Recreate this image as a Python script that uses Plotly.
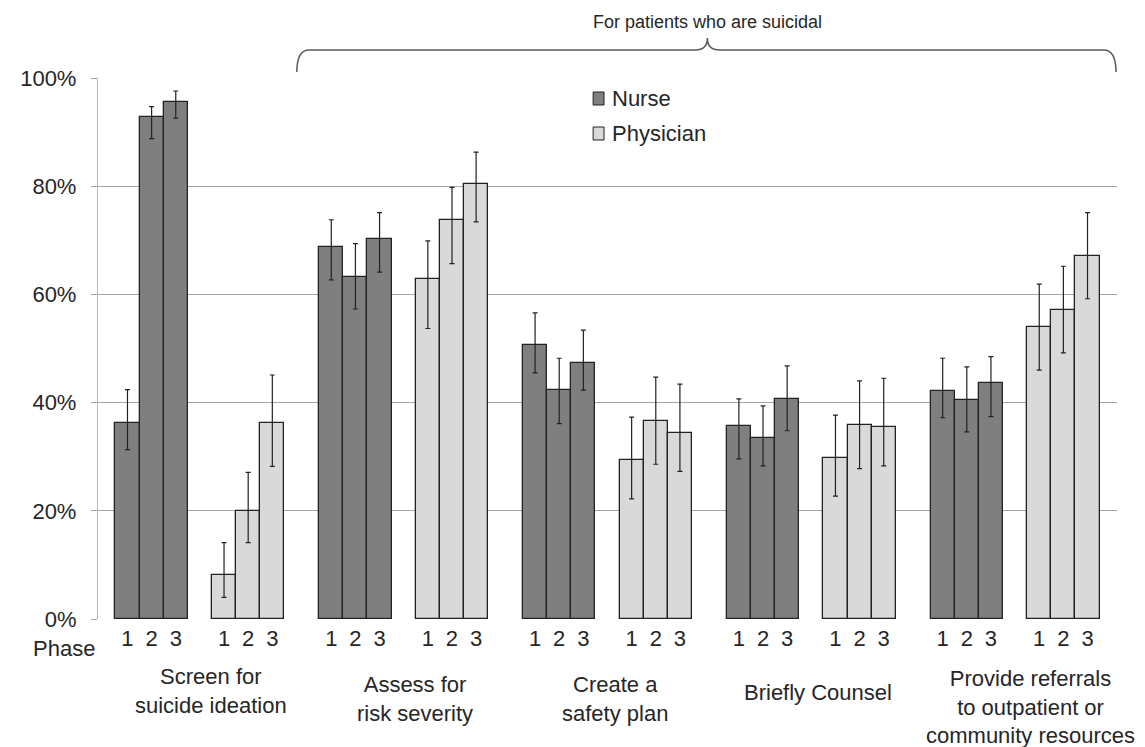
import plotly.graph_objects as go

# ---------------- data ----------------
categories = ["Screen for<br>suicide ideation", "Assess for<br>risk severity",
              "Create a<br>safety plan", "Briefly Counsel",
              "Provide referrals<br>to outpatient or<br>community resources"]
phases = ["1", "2", "3"]
roles = ["Nurse", "Physician"]

nurse = [[36.3, 92.7, 95.5],
         [68.7, 63.3, 70.2],
         [50.6, 42.3, 47.4],
         [35.7, 33.4, 40.7],
         [42.2, 40.5, 43.6]]
nurse_hi = [[42.4, 94.7, 97.6],
            [73.8, 69.4, 75.1],
            [56.6, 48.2, 53.4],
            [40.7, 39.4, 46.8],
            [48.2, 46.6, 48.5]]
nurse_lo = [[31.3, 88.8, 92.6],
            [62.7, 57.3, 64.1],
            [45.5, 36.1, 42.3],
            [29.6, 28.3, 34.8],
            [37.2, 34.6, 37.4]]

physician = [[8.1, 20.0, 36.2],
             [62.8, 73.8, 80.5],
             [29.3, 36.6, 34.4],
             [29.8, 35.9, 35.4],
             [54.0, 57.2, 67.1]]
physician_hi = [[14.1, 27.1, 45.1],
                [69.9, 79.8, 86.3],
                [37.3, 44.7, 43.4],
                [37.7, 44.0, 44.5],
                [61.9, 65.2, 75.1]]
physician_lo = [[4.0, 14.1, 28.2],
                [53.7, 65.7, 73.4],
                [22.2, 28.6, 27.3],
                [22.7, 27.8, 28.3],
                [46.0, 49.2, 59.2]]

y_ticks = [0, 20, 40, 60, 80, 100]
y_ticktext = ["0%", "20%", "40%", "60%", "80%", "100%"]
bracket_text = "For patients who are suicidal"

# ---------------- layout helpers ----------------
OUTER = 0.0854                       # side padding inside each category
W = (1 - 2 * OUTER) / 7              # bar width (3 bars + gap + 3 bars)

def xpos(cat, role, ph):
    return cat + OUTER + (role * 4 + ph + 0.5) * W

def flat(m):
    return [v for row in m for v in row]

FONT = "Liberation Sans, Arial, sans-serif"
TXT = "#262626"
EDGE = "#222222"
colors = ["#7f7f7f", "#d9d9d9"]

fig = go.Figure()
series = [(nurse, nurse_hi, nurse_lo), (physician, physician_hi, physician_lo)]
tickvals, ticktext = [], []
for role, (vals, hi, lo) in enumerate(series):
    xs = [xpos(c, role, p) for c in range(len(categories)) for p in range(3)]
    v = flat(vals)
    plus = [h - y for h, y in zip(flat(hi), v)]
    minus = [y - l for l, y in zip(flat(lo), v)]
    fig.add_trace(go.Bar(
        x=xs, y=v, width=W, name=roles[role],
        marker=dict(color=colors[role], line=dict(color=EDGE, width=1.3)),
        error_y=dict(type="data", symmetric=False, array=plus, arrayminus=minus,
                     color=EDGE, thickness=1.2, width=2.5),
    ))
    tickvals += xs
    ticktext += [phases[p] for c in range(len(categories)) for p in range(3)]

fig.update_layout(
    width=1137, height=739,
    margin=dict(l=84, r=28, t=70, b=128),
    plot_bgcolor="white", paper_bgcolor="white",
    font=dict(family=FONT, size=22, color=TXT),
    showlegend=False,
    bargap=0,
)
fig.update_xaxes(range=[0, len(categories)], tickvals=tickvals, ticktext=ticktext,
                 showgrid=False, zeroline=False, showline=False, ticks="",
                 ticklabelstandoff=4,
                 tickfont=dict(size=22, color=TXT))
fig.update_yaxes(range=[0, 100], tickvals=y_ticks, ticktext=y_ticktext,
                 showgrid=True, gridcolor="#a6a6a6", gridwidth=1.3,
                 zeroline=False, showline=True, linecolor="#b5b5b5", linewidth=1.3,
                 ticks="outside", ticklen=6, tickcolor="#a6a6a6",
                 ticklabelstandoff=10,
                 tickfont=dict(size=22, color=TXT))

# legend (drawn as key boxes + text)
leg_x0, leg_x1, leg_tx = 0.4859, 0.4966, 0.5024
leg_rows = [(0.9741, 0.9501), (0.9094, 0.8854)]
for role, (ytop, ybot) in enumerate(leg_rows):
    fig.add_shape(type="rect", xref="paper", yref="paper",
                  x0=leg_x0, x1=leg_x1, y0=ybot, y1=ytop,
                  fillcolor=colors[role], line=dict(color=EDGE, width=1))
    fig.add_annotation(x=leg_tx, y=(ytop + ybot) / 2, xref="paper", yref="paper",
                       text=roles[role], showarrow=False,
                       xanchor="left", yanchor="middle",
                       font=dict(size=22, color=TXT))

# category labels below the axis (centre of each text block)
label_x = [0.556, 1.556, 2.537, 3.532, 4.576]
label_y = [-0.133, -0.147, -0.148, -0.135, -0.162]
for lbl, lx, ly in zip(categories, label_x, label_y):
    fig.add_annotation(x=lx, y=ly, xref="x", yref="paper", text=lbl,
                       showarrow=False, xanchor="center", yanchor="middle",
                       font=dict(size=22, color=TXT))
fig.add_annotation(x=-0.033, y=-0.054, xref="paper", yref="paper", text="Phase",
                   showarrow=False, xanchor="center", yanchor="middle",
                   font=dict(size=22, color=TXT))

# brace over the "suicidal" activities
x0, x1, tip = 0.9756, 4.995, 2.990
yb, yh, yt = 1.0111, 1.0518, 1.074
d = 0.06
path = (f"M {x0},{yb} Q {x0},{yh} {x0+d},{yh} L {tip-d},{yh} "
        f"Q {tip},{yh} {tip},{yt} Q {tip},{yh} {tip+d},{yh} "
        f"L {x1-d},{yh} Q {x1},{yh} {x1},{yb}")
fig.add_shape(type="path", path=path, xref="x", yref="paper",
              line=dict(color="#5a5a5a", width=1.5))
fig.add_annotation(x=tip, y=1.1035, xref="x", yref="paper",
                   text=bracket_text, showarrow=False,
                   xanchor="center", yanchor="middle",
                   font=dict(family="Liberation Sans Narrow, Arial Narrow, Liberation Sans, sans-serif",
                             size=18, color=TXT))

fig.write_html("out.html")
